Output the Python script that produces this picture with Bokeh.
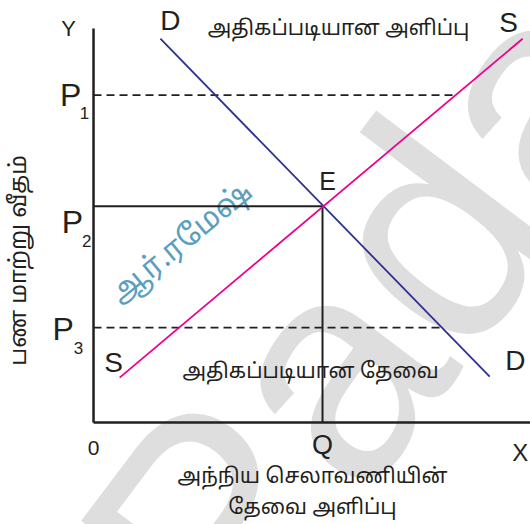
from bokeh.plotting import figure
from bokeh.models import Range1d
from bokeh.core.properties import value
from bokeh.embed import file_html
from bokeh.resources import INLINE
import math

# ---- data (chart units) ----
demand_x = [1.46, 8.65]
demand_y = [8.38, 1.00]
supply_x = [0.57, 9.37]
supply_y = [0.98, 8.38]
price_p1 = 7.15
price_p2 = 4.72
price_p3 = 2.07
quantity_q = 5.0
x_axis_end = 9.7
y_axis_end = 8.60

title_top = "அதிகப்படியான அளிப்பு"
title_bottom = "அதிகப்படியான தேவை"
x_title_1 = "அந்நிய செலாவணியின்"
x_title_2 = "தேவை அளிப்பு"
y_title = "பண மாற்று வீதம்"
author_mark = "ஆர்.ரமேஷ்"
bg_mark = "Pada"

def x_on_line(xs, ys, yv):
    return xs[0] + (yv - ys[0]) * (xs[1] - xs[0]) / (ys[1] - ys[0])

p = figure(width=530, height=524, output_backend="svg", toolbar_location=None,
           x_range=Range1d(-2.031, 9.541), y_range=Range1d(-2.227, 9.214),
           min_border=0, outline_line_color=None)
p.axis.visible = False
p.grid.visible = False
p.background_fill_color = "white"

FONT = value("Liberation Sans")
TAMIL = value("Noto Sans Tamil, Lohit Tamil, Liberation Sans, sans-serif")
INK = "#231f20"

# background watermark
p.text(x=[1.24], y=[-3.98], text=[bg_mark], angle=math.radians(53),
       text_font=FONT, text_font_size="310px", text_color="#dedede",
       text_align="left", text_baseline="alphabetic")

# author watermark
p.text(x=[1.94], y=[3.89], text=[author_mark], angle=math.radians(39.5),
       text_font=TAMIL, text_font_size="30px", text_color="#5b9fbf",
       text_align="center", text_baseline="middle")

# axes
p.line([0, 0], [0, y_axis_end], line_color=INK, line_width=2.5)
p.line([0, x_axis_end], [0, 0], line_color=INK, line_width=2.5)

# equilibrium guides
p.line([0, quantity_q], [price_p2, price_p2], line_color=INK, line_width=2)
p.line([quantity_q, quantity_q], [0, price_p2], line_color=INK, line_width=2)

# dashed price lines
p.line([0, x_on_line(supply_x, supply_y, price_p1)], [price_p1, price_p1],
       line_color=INK, line_width=1.8, line_dash="8 5")
p.line([0, x_on_line(demand_x, demand_y, price_p3)], [price_p3, price_p3],
       line_color=INK, line_width=1.8, line_dash="8 5")

# demand & supply
p.line(demand_x, demand_y, line_color="#2e3192", line_width=1.8)
p.line(supply_x, supply_y, line_color="#ec008c", line_width=1.8)

def label(x, y, t, size, align="center", angle=0.0, font=FONT):
    p.text(x=[x], y=[y], text=[t], text_font=font, text_font_size=size,
           text_color=INK, text_align=align, text_baseline="middle", angle=angle)

label(-0.546, 8.60, "Y", "22px")
label(1.68, 8.78, "D", "28px")
label(5.35, 8.56, title_top, "21px", font=TAMIL)
label(9.06, 8.73, "S", "28px")
label(-0.50, 7.14, "P", "32px")
label(-0.20, 6.75, "1", "17px")
label(-0.46, 4.37, "P", "32px")
label(-0.15, 3.97, "2", "17px")
label(-0.66, 2.05, "P", "32px")
label(-0.33, 1.62, "3", "17px")
label(5.11, 5.28, "E", "25px")
label(0.44, 1.31, "S", "28px")
label(9.21, 1.35, "D", "28px")
label(4.74, 1.07, title_bottom, "21px", font=TAMIL)
label(0.0, -0.55, "0", "21px")
label(5.0, -0.50, "Q", "27px")
label(9.32, -0.66, "X", "24px")
label(4.78, -1.22, x_title_1, "21px", font=TAMIL)
label(4.78, -1.88, x_title_2, "21px", font=TAMIL)
label(-1.59, 3.54, y_title, "23px", angle=math.pi / 2, font=TAMIL)

open("out.html", "w").write(file_html(p, INLINE))
